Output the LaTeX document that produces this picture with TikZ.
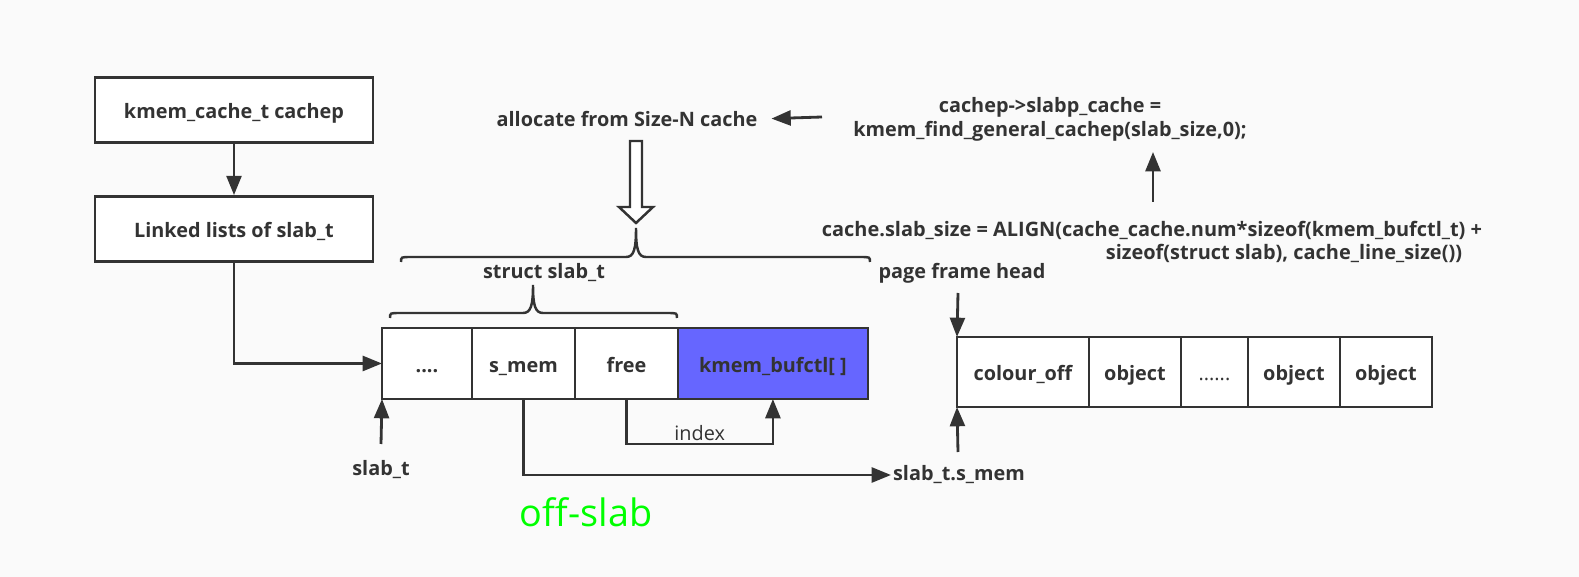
\documentclass[tikz,border=0pt]{standalone}
\usepackage{fontspec}
\setmainfont{Open Sans}
\usepackage{tikz}
\usetikzlibrary{arrows.meta,positioning,calc}
\definecolor{slabline}{RGB}{51,51,51}
\definecolor{slabback}{RGB}{250,250,250}
\definecolor{slabblue}{RGB}{102,102,255}
\definecolor{slabgreen}{RGB}{0,255,0}

\begin{document}
\begin{tikzpicture}[
        x=0.02cm, y=-0.02cm,
        box/.style={draw=slabline, fill=white, line width=1.6pt, minimum width=5.56cm, minimum height=1.3cm, text=slabline, text height=1.3em, text depth=0.3em, font=\bfseries\fontsize{11.3}{13.6}\selectfont},
        cell/.style={draw=slabline, fill=white, line width=1.6pt, outer sep=0pt, minimum height=1.42cm, text=slabline, text height=1.3em, text depth=0.3em, font=\bfseries\fontsize{11.3}{13.6}\selectfont},
        lbl/.style={text=slabline, inner sep=1pt, font=\bfseries\fontsize{11.3}{13.6}\selectfont},
        thin/.style={text=slabline, inner sep=1pt, font=\fontsize{11.3}{13.6}\selectfont},
        arr/.style={draw=slabline, line width=1.6pt, -{Triangle[length=11pt,width=8.5pt]}},
        brace/.style={draw=slabline, line width=1.4pt},
        hollow/.style={draw=slabline, fill=white, line width=1.4pt}
    ]
        % Background
        \fill[slabback] (0,0) rectangle (1579,577);
        \useasboundingbox (0,0) rectangle (1579,577);

        % Cache descriptor
        \node[box] (cachep) at (234,110) {kmem\_cache\_t cachep};
        \node[box] (lists) at (234,229) {Linked lists of slab\_t};

        % Off-slab slab descriptor
        \node[cell, minimum width=1.8cm, anchor=north west] (dots) at (382,328) {....};
        \node[cell, minimum width=2.06cm, right=0pt of dots] (smem) {s\_mem};
        \node[cell, minimum width=2.06cm, right=0pt of smem] (free) {free};
        \node[cell, minimum width=3.8cm, right=0pt of free, fill=slabblue] (bufctl) {kmem\_bufctl[ ]};

        % Page frame with objects
        \node[cell, minimum width=2.64cm, minimum height=1.4cm, anchor=north west] (colour) at (957,337) {colour\_off};
        \node[cell, minimum width=1.84cm, minimum height=1.4cm, right=0pt of colour] (obja) {object};
        \node[cell, minimum width=1.34cm, minimum height=1.4cm, right=0pt of obja, font=\fontsize{11.3}{13.6}\selectfont] (more) {......};
        \node[cell, minimum width=1.84cm, minimum height=1.4cm, right=0pt of more] (objb) {object};
        \node[cell, minimum width=1.84cm, minimum height=1.4cm, right=0pt of objb] (objc) {object};

        % Labels
        \node[lbl] (alloc) at (627,119) {allocate from Size-N cache};
        \node[lbl, align=center] (slabp) at (1050,119) {cachep->slabp\_cache =\\kmem\_find\_general\_cachep(slab\_size,0);};
        \node[lbl, align=right, font=\bfseries\fontsize{11.35}{13.2}\selectfont] (align) at (1152,242) {cache.slab\_size = ALIGN(cache\_cache.num*sizeof(kmem\_bufctl\_t) +\\sizeof(struct slab), cache\_line\_size())\hspace*{0.4cm}};
        \node[lbl] (struct) at (544,273) {struct slab\_t};
        \node[lbl] (pfh) at (962,273) {page frame head};
        \node[lbl] (slabt) at (381,470) {slab\_t};
        \node[lbl, anchor=west] (smemlbl) at (891,475) {slab\_t.s\_mem};
        \node[text=slabgreen, font=\fontsize{21.5}{24}\selectfont] (offslab) at (586,512) {off-slab};

        % Braces
        \draw[brace] (390,318) .. controls (390,313) .. (400,313) -- (523,313) .. controls (531,313) and (533,305) .. (533,285) .. controls (533,305) and (535,313) .. (543,313) -- (667,313) .. controls (677,313) .. (677,318);
        \draw[brace] (401,262) .. controls (401,257) .. (411,257) -- (626,257) .. controls (634,257) and (636,249) .. (636,228) .. controls (636,249) and (638,257) .. (646,257) -- (860,257) .. controls (870,257) .. (870,262);

        % Hollow arrow
        \draw[hollow] (630,141) -- (642,141) -- (642,207) -- (653,207) -- (636,223) -- (619,207) -- (630,207) -- cycle;

        % Free ends
        \coordinate (slabtTail) at (381,444);
        \coordinate (smemTail) at (958,452);
        \coordinate (pfhTail) at (958,293);
        \coordinate (slabpTail) at (822,117);
        \coordinate (alignTail) at (1153,202);

        % Connectors
        \draw[arr] (cachep) -- (lists);
        \draw[arr] (lists) |- (dots);
        \draw[arr] (slabtTail) -- (dots.south west);
        \draw[arr] (smem.south) |- (smemlbl.west);
        \draw[arr] (free.south) -- ++(0,45) -| node[pos=0.25, above, thin] {index} (bufctl.south);
        \draw[arr] (smemTail) -- (colour.south west);
        \draw[arr] (pfhTail) -- (colour.north west);
        \draw[arr, shorten >=0.24cm] (slabpTail) -- (alloc.east);
        \draw[arr] (alignTail) -- (1153,152);
    \end{tikzpicture}
\end{document}
